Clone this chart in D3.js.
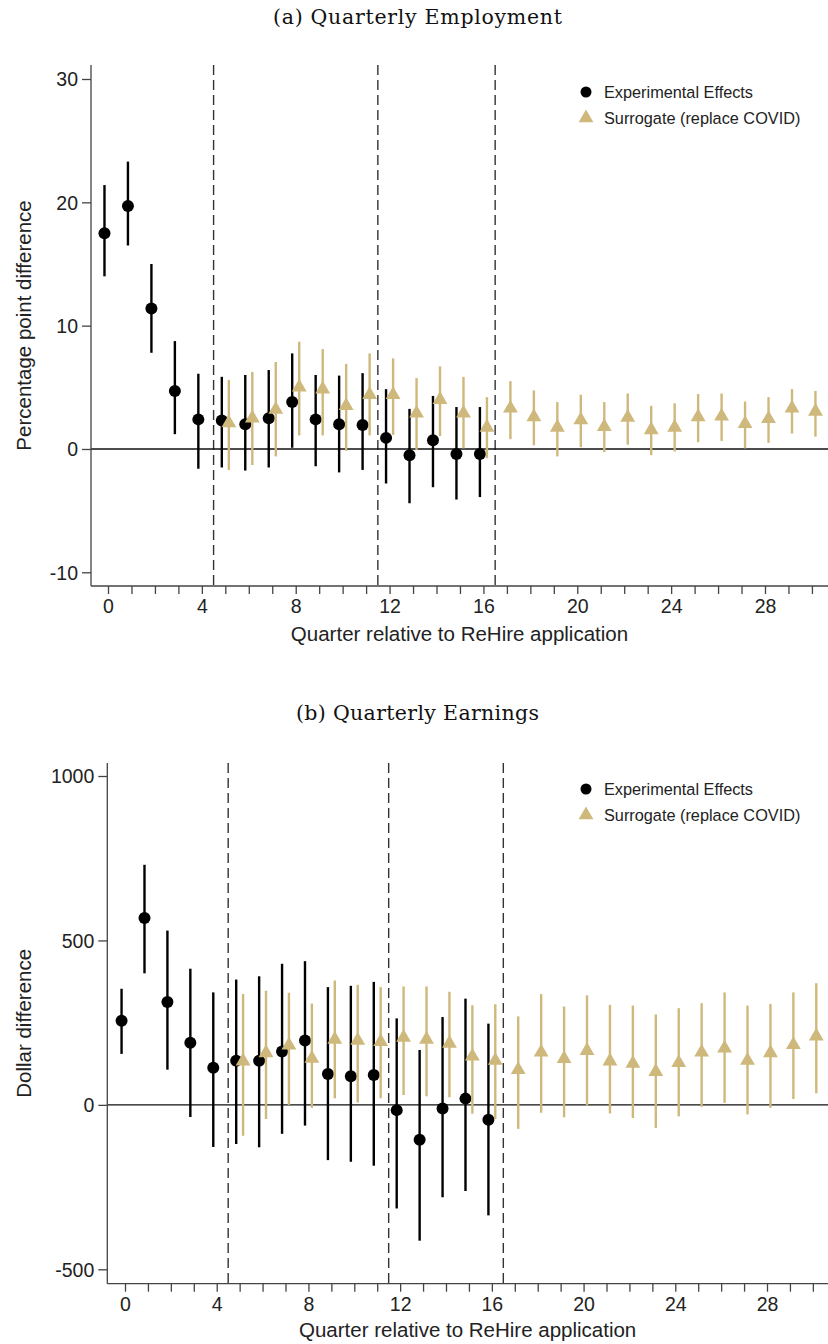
<!DOCTYPE html>
<html>
<head>
<meta charset="utf-8">
<script src="https://cdn.jsdelivr.net/npm/d3@7"></script>
<style>
  html, body { margin: 0; padding: 0; background: #fff; }
  svg { display: block; }
</style>
</head>
<body>
<svg id="chart" width="828" height="1344"></svg>
<script>
// ---------- DATA ----------
const quartersExp = [0,1,2,3,4,5,6,7,8,9,10,11,12,13,14,15,16];
const quartersSur = [5,6,7,8,9,10,11,12,13,14,15,16,17,18,19,20,21,22,23,24,25,26,27,28,29,30];

// (a) Quarterly Employment (percentage points)
const empExp   = [17.5,19.7,11.4,4.7,2.4,2.3,2.0,2.5,3.8,2.4,2.0,1.95,0.9,-0.5,0.7,-0.4,-0.4];
const empExpLo = [14.0,16.5,7.8,1.2,-1.6,-1.5,-1.75,-1.5,0.1,-1.4,-1.9,-1.7,-2.8,-4.4,-3.1,-4.1,-3.9];
const empExpHi = [21.4,23.3,15.0,8.75,6.1,5.85,6.0,6.4,7.75,6.0,5.95,6.15,4.85,3.25,4.3,3.4,3.4];
const empSur   = [2.1,2.5,3.2,5.0,4.85,3.5,4.4,4.4,2.9,4.0,2.9,1.75,3.3,2.6,1.75,2.35,1.8,2.55,1.55,1.75,2.6,2.65,2.05,2.45,3.3,3.05];
const empSurLo = [-1.7,-1.3,-0.6,1.1,1.1,-0.15,1.1,1.15,-0.1,1.05,0.05,-0.75,0.8,0.3,-0.6,0.15,-0.25,0.35,-0.5,-0.2,0.55,0.65,0.05,0.5,1.25,1.0];
const empSurHi = [5.6,6.25,7.05,8.7,8.1,6.9,7.75,7.35,5.75,6.7,5.85,4.2,5.5,4.75,3.8,4.4,3.8,4.5,3.5,3.7,4.45,4.5,3.85,4.2,4.85,4.7];

// (b) Quarterly Earnings (dollars)
const earnExp   = [256,568,313,189,113,134,134,162,196,94,87,91,-16,-106,-11,19,-45];
const earnExpLo = [155,400,107,-37,-128,-119,-129,-88,-63,-168,-173,-185,-315,-413,-281,-262,-336];
const earnExpHi = [353,730,530,414,342,381,391,429,437,358,362,374,263,167,267,323,247];
const earnSur   = [133,158,181,141,199,196,192,205,199,187,148,135,107,160,140,165,133,126,101,128,160,172,135,158,183,209];
const earnSurLo = [-94,-43,0,-9,20,7,20,30,26,23,-27,-43,-73,-24,-38,-2,-26,-40,-70,-35,-6,6,-29,-9,18,35];
const earnSurHi = [337,347,341,308,378,365,358,360,360,344,303,306,269,337,299,333,304,302,275,294,309,342,302,307,342,370];

const xTickLabels = [0,4,8,12,16,20,24,28];
const xMinorTicks = d3.range(0, 31);
const empTicks = [-10,0,10,20,30];
const earnTicks = [-500,0,500,1000];
const dividers = [4.5, 11.5, 16.5];
const legendLabels = ["Experimental Effects", "Surrogate (replace COVID)"];
const titles = ["(a) Quarterly Employment", "(b) Quarterly Earnings"];
const xTitle = "Quarter relative to ReHire application";
const yTitles = ["Percentage point difference", "Dollar difference"];

// ---------- STYLE ----------
const GOLD = "#cfb87c";
const AXIS = "#444";
const SANS = "'Liberation Sans', Arial, Helvetica, sans-serif";
const SERIF = "'DejaVu Serif', 'Liberation Serif', serif";

const svg = d3.select("#chart");

function drawPanel(cfg) {
  const g = svg.append("g");
  const x = d3.scaleLinear().domain([0, 28]).range(cfg.xRange);
  const y = d3.scaleLinear().domain(cfg.yDomain).range(cfg.yRange);
  const left = cfg.left, right = 828, top = cfg.top, bottom = cfg.bottom;

  // title
  g.append("text").attr("x", 417.5).attr("y", cfg.titleY)
    .attr("text-anchor", "middle").attr("font-family", SERIF)
    .attr("font-size", 20.5).attr("fill", "#111")
    .attr("textLength", cfg.titleLen).attr("lengthAdjust", "spacing")
    .text(cfg.title);

  // dashed dividers
  g.selectAll("line.div").data(dividers).enter().append("line")
    .attr("x1", d => x(d)).attr("x2", d => x(d))
    .attr("y1", top).attr("y2", bottom)
    .attr("stroke", "#333").attr("stroke-width", 1.4)
    .attr("stroke-dasharray", "10,5");

  // zero line
  g.append("line").attr("x1", left).attr("x2", right)
    .attr("y1", y(0)).attr("y2", y(0))
    .attr("stroke", "#111").attr("stroke-width", 1.4);

  // Y axis
  const yAxis = d3.axisLeft(y).tickValues(cfg.yTicks).tickSize(9).tickPadding(4)
    .tickFormat(d => String(d));
  const ya = g.append("g").attr("transform", `translate(${left},0)`).call(yAxis);
  ya.select(".domain").remove();
  ya.append("line").attr("x1", 0).attr("x2", 0).attr("y1", top).attr("y2", bottom)
    .attr("stroke", AXIS).attr("stroke-width", 1.3);
  ya.selectAll(".tick line").attr("stroke", AXIS).attr("stroke-width", 1.3);
  ya.selectAll(".tick text").attr("font-family", SANS).attr("font-size", 19.5)
    .attr("fill", "#222").attr("dy", "0.35em");

  // X axis (minor ticks every quarter, labels every 4)
  const xAxis = d3.axisBottom(x).tickValues(xMinorTicks).tickSize(8).tickPadding(5)
    .tickFormat(d => xTickLabels.includes(d) ? String(d) : "");
  const xa = g.append("g").attr("transform", `translate(0,${bottom})`).call(xAxis);
  xa.select(".domain").remove();
  xa.append("line").attr("x1", left).attr("x2", right).attr("y1", 0).attr("y2", 0)
    .attr("stroke", AXIS).attr("stroke-width", 1.3);
  xa.selectAll(".tick line").attr("stroke", AXIS).attr("stroke-width", 1.3);
  xa.selectAll(".tick text").attr("font-family", SANS).attr("font-size", 19.5).attr("fill", "#222");

  // axis titles
  g.append("text").attr("x", (left + right) / 2).attr("y", cfg.xTitleY)
    .attr("text-anchor", "middle").attr("font-family", SANS).attr("font-size", 20.5)
    .attr("fill", "#222").text(xTitle);
  g.append("text").attr("transform", `translate(31,${(top + bottom) / 2}) rotate(-90)`)
    .attr("text-anchor", "middle").attr("font-family", SANS).attr("font-size", 20.5)
    .attr("fill", "#222").text(cfg.yTitle);

  // experimental series
  const exp = quartersExp.map((q, i) => ({q, v: cfg.exp[i], lo: cfg.expLo[i], hi: cfg.expHi[i]}));
  const sur = quartersSur.map((q, i) => ({q, v: cfg.sur[i], lo: cfg.surLo[i], hi: cfg.surHi[i]}));
  const off = 0.15;

  g.selectAll("line.expci").data(exp).enter().append("line")
    .attr("x1", d => x(d.q - off)).attr("x2", d => x(d.q - off))
    .attr("y1", d => y(d.lo)).attr("y2", d => y(d.hi))
    .attr("stroke", "#000").attr("stroke-width", 2.4);
  g.selectAll("circle.exp").data(exp).enter().append("circle")
    .attr("cx", d => x(d.q - off)).attr("cy", d => y(d.v)).attr("r", 6)
    .attr("fill", "#000");

  const tri = d3.symbol().type(d3.symbolTriangle).size(95);
  g.selectAll("line.surci").data(sur).enter().append("line")
    .attr("x1", d => x(d.q + off)).attr("x2", d => x(d.q + off))
    .attr("y1", d => y(d.lo)).attr("y2", d => y(d.hi))
    .attr("stroke", GOLD).attr("stroke-width", 2.4);
  g.selectAll("path.sur").data(sur).enter().append("path")
    .attr("d", tri)
    .attr("transform", d => `translate(${x(d.q + off)},${y(d.v)})`)
    .attr("fill", GOLD);

  // legend
  const lx = 586, ly = cfg.legendY;
  g.append("circle").attr("cx", lx).attr("cy", ly).attr("r", 5.5).attr("fill", "#000");
  g.append("path").attr("d", tri).attr("transform", `translate(${lx},${ly + 26})`).attr("fill", GOLD);
  g.append("text").attr("x", 604).attr("y", ly + 6).attr("font-family", SANS)
    .attr("font-size", 16.3).attr("fill", "#222").text(legendLabels[0]);
  g.append("text").attr("x", 604).attr("y", ly + 32).attr("font-family", SANS)
    .attr("font-size", 16.3).attr("fill", "#222").text(legendLabels[1]);
}

drawPanel({
  title: titles[0], titleY: 24, titleLen: 289,
  xRange: [108, 765], yDomain: [-10, 30], yRange: [572.3, 79],
  left: 91, top: 65, bottom: 586, yTicks: empTicks,
  xTitleY: 641, yTitle: yTitles[0], legendY: 92,
  exp: empExp, expLo: empExpLo, expHi: empExpHi,
  sur: empSur, surLo: empSurLo, surHi: empSurHi
});

drawPanel({
  title: titles[1], titleY: 720, titleLen: 243,
  xRange: [125, 767], yDomain: [-500, 1000], yRange: [1269.3, 776],
  left: 107.3, top: 763, bottom: 1283.7, yTicks: earnTicks,
  xTitleY: 1337, yTitle: yTitles[1], legendY: 789,
  exp: earnExp, expLo: earnExpLo, expHi: earnExpHi,
  sur: earnSur, surLo: earnSurLo, surHi: earnSurHi
});
</script>
</body>
</html>
